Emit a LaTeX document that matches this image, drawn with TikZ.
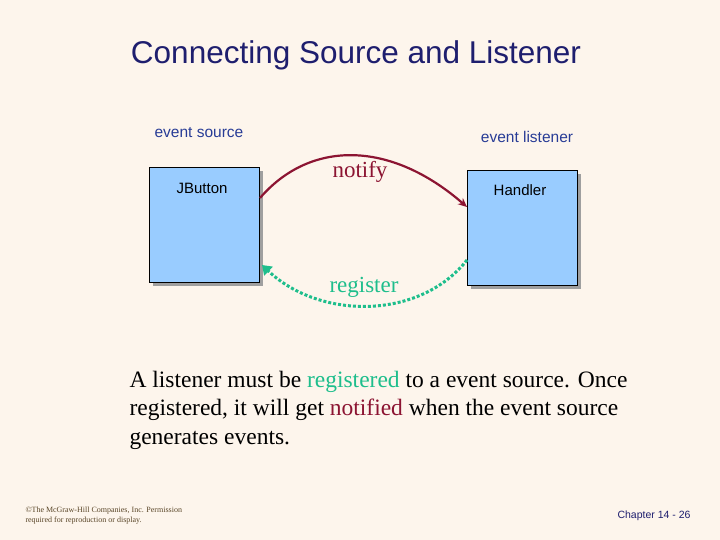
\documentclass[tikz,border=0pt]{standalone}
\usepackage{fontspec}
\setmainfont{Liberation Serif}
\setsansfont{Liberation Sans}
\usetikzlibrary{arrows.meta}
\definecolor{slidebg}{RGB}{253,245,236}
\definecolor{titleblue}{RGB}{30,30,110}
\definecolor{labelblue}{RGB}{40,60,150}
\definecolor{boxblue}{RGB}{153,204,255}
\definecolor{notifyred}{RGB}{140,20,50}
\definecolor{regteal}{RGB}{30,190,140}
\definecolor{footbrown}{RGB}{90,70,40}

\begin{document}
\begin{tikzpicture}[x=1pt,y=-1pt,
  objbox/.style={draw=black,fill=boxblue,line width=0.8pt,minimum width=110pt,minimum height=115pt,
    anchor=north west,inner sep=0pt},
  shadowbox/.style={fill=gray!75,minimum width=110pt,minimum height=115pt,anchor=north west,inner sep=0pt},
  boxlabel/.style={font=\sffamily\fontsize{15}{18}\selectfont},
  rolelabel/.style={font=\sffamily\fontsize{15.5}{18}\selectfont,text=labelblue}]
\path[fill=slidebg] (0,0) rectangle (720,540);
\useasboundingbox (0,0) rectangle (720,540);

\node (title) at (356,55) [font=\sffamily\fontsize{31.5}{36}\selectfont,text=titleblue] {Connecting Source and Listener};
\node (srclabel) at (199,133) [rolelabel] {event source};
\node (lstlabel) at (527,137) [rolelabel] {event listener};

\node at (153,171) [shadowbox] {};
\node (source) at (149,167) [objbox] {};
\node at (471,174) [shadowbox] {};
\node (listener) at (467,170) [objbox] {};
\node (jbutton) at (202,188) [boxlabel] {JButton};
\node (handler) at (520,190) [boxlabel] {Handler};

\coordinate (notifyout) at (260,198);
\coordinate (notifyin) at (467,207);
\coordinate (regout) at (467,260);
\coordinate (regin) at (262,265);

\draw [notifyred,line width=2.2pt,-{Stealth[length=9pt,width=8pt]}]
  (notifyout) .. controls (310,140) and (390,140) .. (notifyin);
\draw [regteal,line width=3pt,dotted,-{Triangle[length=9pt,width=12pt]}]
  (regout) .. controls (420,320) and (320,320) .. (regin);

\node (notify) at (360,172) [font=\fontsize{23}{26}\selectfont,text=notifyred] {notify};
\node (register) at (364,287) [font=\fontsize{23}{26}\selectfont,text=regteal] {register};

\node (expl) at (126,410) [anchor=west,align=left,font=\fontsize{23.5}{28.5}\selectfont] {A listener must be \textcolor{regteal}{registered} to a event source. Once\\
registered, it will get \textcolor{notifyred}{notified} when the event source\\
generates events.};

\node (copyright) at (22,516) [anchor=west,align=left,text=footbrown,font=\fontsize{8}{10}\selectfont] {\copyright The McGraw-Hill Companies, Inc. Permission\\required for reproduction or display.};
\node (chapter) at (654,516) [font=\sffamily\fontsize{10.5}{12}\selectfont,text=titleblue] {Chapter 14 - 26};
\end{tikzpicture}
\end{document}
